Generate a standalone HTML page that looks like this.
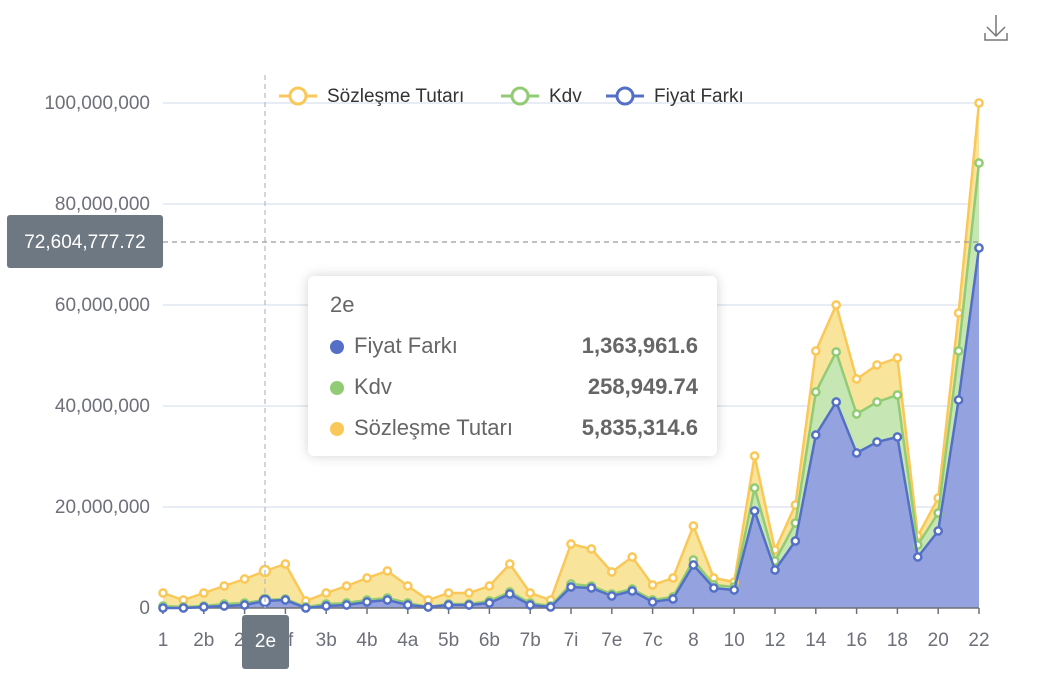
<!DOCTYPE html>
<html><head><meta charset="utf-8"><style>
html,body{margin:0;padding:0;background:#fff;width:1037px;height:690px;overflow:hidden;font-family:"Liberation Sans",sans-serif}
svg{position:absolute;left:0;top:0}
.tt{position:absolute;left:308px;top:276px;width:409px;height:180px;background:#fff;border-radius:6px;box-shadow:0 0 12px rgba(0,0,0,0.18);font-size:22px;color:#666}
.tt .t{position:absolute;left:22px;top:16px}
.row{position:absolute;left:22px;width:368px;height:28px}
.row .d{position:absolute;left:0;top:7px;width:14px;height:14px;border-radius:50%}
.row .n{position:absolute;left:24px;top:0}
.row .v{position:absolute;right:0;top:0;font-weight:bold;color:#666}
</style></head><body>
<svg id="s" width="1037" height="690" xmlns="http://www.w3.org/2000/svg"></svg>
<div class="tt"><div class="t">2e</div>
<div class="row" style="top:57px"><div class="d" style="background:#5470c6"></div><div class="n">Fiyat Farkı</div><div class="v">1,363,961.6</div></div>
<div class="row" style="top:98px"><div class="d" style="background:#91cc75"></div><div class="n">Kdv</div><div class="v">258,949.74</div></div>
<div class="row" style="top:139px"><div class="d" style="background:#fac858"></div><div class="n">Sözleşme Tutarı</div><div class="v">5,835,314.6</div></div>
</div>
<script>
var Y=[593,600,593,586,579,571,564,601,593,586,578,571,586,600,593,593,586,564,593,600,544,549,572,557,585,578,526,578,582,456,550,505,351,305,379,365,358,536,498,313,103];
var G=[606,607,606,604,603,600,599,607,604,603,600,598,603,607,604,604,601,592,603,606,584,586,594,589,600,597,560,585,587,488,561,523,392,352,414,402,395,545,513,351,163];
var B=[608,608,607,606,605,601,600,608,606,605,602,600,605,607,605,605,603,594,605,607,587,588,596,591,602,599,565,588,590,511,570,541,435,402,453,442,437,557,531,400,248];
var X=Y.map(function(_,i){return 163+20.4*i});
var h='';
function pts(a){return a.map(function(v,i){return X[i].toFixed(1)+','+v}).join(' ')}
function band(top,bot,c){var p=pts(top);var b=bot?bot.map(function(v,i){return X[i].toFixed(1)+','+v}).reverse().join(' '):'979,608 163,608';h+='<polygon points="'+p+' '+b+'" fill="'+c+'"/>'}
[103,204,305,406,507].forEach(function(y){h+='<line x1="163" x2="979" y1="'+y+'" y2="'+y+'" stroke="#e0e6f1" stroke-width="1.5"/>'});
var yl=['100,000,000','80,000,000','60,000,000','40,000,000','20,000,000','0'];
yl.forEach(function(t,i){h+='<text x="150" y="'+(109+101*i)+'" text-anchor="end" font-size="19" fill="#6e7079">'+t+'</text>'});
band(Y,G,'#f9e49b');band(G,B,'#c6e6b3');band(B,null,'#94a3df');
h+='<line x1="163" x2="979" y1="608" y2="608" stroke="#6e7079" stroke-width="1.5"/>';
var lab=['1','2b','2d','2f','3b','4b','4a','5b','6b','7b','7i','7e','7c','8','10','12','14','16','18','20','22'];
for(var k=0;k<=20;k++){var x=163+40.8*k;h+='<line x1="'+x+'" x2="'+x+'" y1="608" y2="614" stroke="#6e7079" stroke-width="1.5"/>';h+='<text x="'+x+'" y="646" text-anchor="middle" font-size="19" fill="#6e7079">'+lab[k]+'</text>';}
[[Y,'#fac858'],[G,'#91cc75'],[B,'#5470c6']].forEach(function(s){h+='<polyline points="'+pts(s[0])+'" fill="none" stroke="'+s[1]+'" stroke-width="2.5"/>';s[0].forEach(function(v,i){h+='<circle cx="'+X[i]+'" cy="'+v+'" r="'+(i==5?5:3.6)+'" fill="#fff" stroke="'+s[1]+'" stroke-width="2.5"/>'})});
h+='<line x1="265" x2="265" y1="75" y2="608" stroke="#b6b9c4" stroke-dasharray="5,4" stroke-width="1.2"/>';
h+='<line x1="163" x2="979" y1="242" y2="242" stroke="#9a9a9a" stroke-dasharray="5,4" stroke-width="1.2"/>';
h+='<rect x="7" y="215" width="156" height="53" rx="3" fill="#6e7882"/><text x="85" y="248" text-anchor="middle" font-size="19" fill="#fff">72,604,777.72</text>';
h+='<rect x="242" y="615" width="47" height="54" rx="3" fill="#6e7882"/><text x="265.5" y="647" text-anchor="middle" font-size="19" fill="#fff">2e</text>';
[[279,'#fac858','Sözleşme Tutarı',327],[501,'#91cc75','Kdv',549],[606,'#5470c6','Fiyat Farkı',654]].forEach(function(l){h+='<line x1="'+l[0]+'" x2="'+(l[0]+38)+'" y1="96" y2="96" stroke="'+l[1]+'" stroke-width="3"/><circle cx="'+(l[0]+19)+'" cy="96" r="8" fill="#fff" stroke="'+l[1]+'" stroke-width="3"/><text x="'+l[3]+'" y="102" font-size="19" fill="#333">'+l[2]+'</text>'});
h+='<path d="M996 15 V36 M987 27 L996 36 L1005 27 M985 33 V40 H1007 V33" fill="none" stroke="#777" stroke-width="1.5"/>';
document.getElementById('s').innerHTML=h;
</script>
</body></html>
